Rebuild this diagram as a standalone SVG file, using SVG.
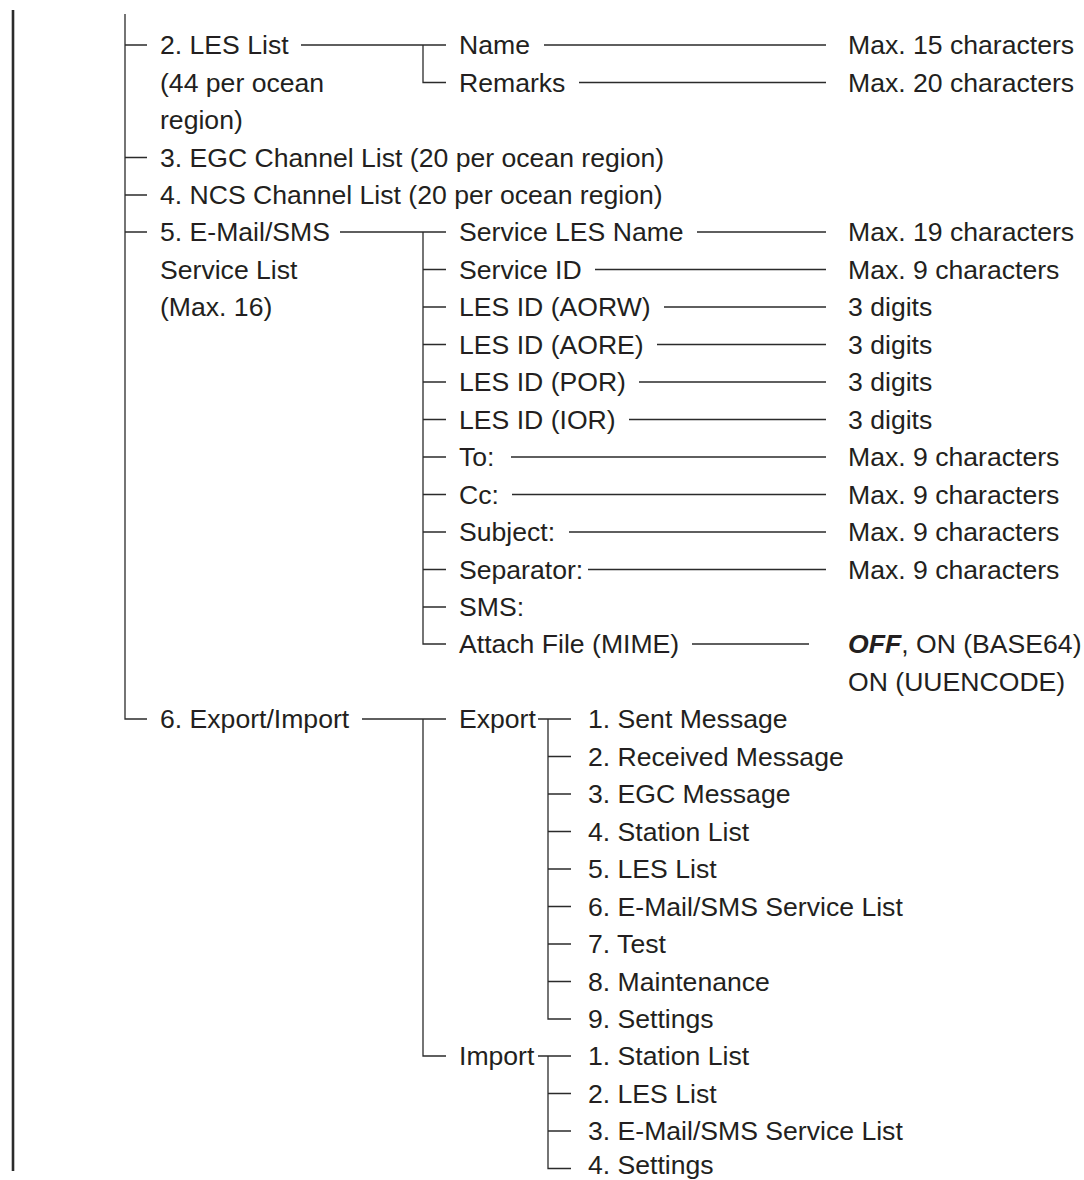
<svg xmlns="http://www.w3.org/2000/svg" width="1084" height="1180" viewBox="0 0 1084 1180">
<style>
text{font-family:"Liberation Sans",Arial,Helvetica,sans-serif;font-size:26.6px;fill:#231f20}
.bi{font-weight:bold;font-style:italic}
.c path,.c line{stroke:#2b2b2b;stroke-width:1.3;fill:none}
.edge{stroke:#2b2b2b;stroke-width:2.6}
</style>
<rect width="1084" height="1180" fill="#fff"/>
<line class="edge" x1="13" y1="10" x2="13" y2="1171"/>
<g id="connectors" class="c">
<path d="M125 14V719H147"/>
<path d="M125 45H147M125 157.5H147M125 195H147M125 232H147"/>
<path d="M301 45H446M423 45V82.5H446"/>
<path d="M340 232H446M423 232V644H446"/>
<path d="M423 269.5H446M423 307H446M423 344.5H446M423 382H446M423 419.5H446M423 457H446M423 494.5H446M423 532H446M423 569.5H446M423 607H446"/>
<path d="M362 719H446M423 719V1056H446"/>
<path d="M544 45H826M579 82.5H826"/>
<path d="M697 232H826M595 269.5H826M664 307H826M657 344.5H826M639 382H826M629 419.5H826M511 457H826M512 494.5H826M569 532H826M588 569.5H826M692 644H809"/>
<path d="M538 719H571M548 719V1019H571"/>
<path d="M548 756.5H571M548 794H571M548 831.5H571M548 869H571M548 906.5H571M548 944H571M548 981.5H571"/>
<path d="M538 1056H571M548 1056V1168.5H571M548 1093.5H571M548 1131H571"/>
</g>
<g id="n-les-list"><text x="160" y="54">2. LES List</text><text x="160" y="91.5">(44 per ocean</text><text x="160" y="129">region)</text></g>
<g id="n-egc"><text x="160" y="166.5">3. EGC Channel List (20 per ocean region)</text></g>
<g id="n-ncs"><text x="160" y="204">4. NCS Channel List (20 per ocean region)</text></g>
<g id="n-email"><text x="160" y="241">5. E-Mail/SMS</text><text x="160" y="278.5">Service List</text><text x="160" y="316">(Max. 16)</text></g>
<g id="n-export-import"><text x="160" y="728">6. Export/Import</text></g>
<g id="n-name"><text x="459" y="54">Name</text></g>
<g id="n-remarks"><text x="459" y="91.5">Remarks</text></g>
<g id="v-name"><text x="848" y="54">Max. 15 characters</text></g>
<g id="v-remarks"><text x="848" y="91.5">Max. 20 characters</text></g>
<g id="n-slesname"><text x="459" y="241">Service LES Name</text></g>
<g id="n-sid"><text x="459" y="278.5">Service ID</text></g>
<g id="n-aorw"><text x="459" y="316">LES ID (AORW)</text></g>
<g id="n-aore"><text x="459" y="353.5">LES ID (AORE)</text></g>
<g id="n-por"><text x="459" y="391">LES ID (POR)</text></g>
<g id="n-ior"><text x="459" y="428.5">LES ID (IOR)</text></g>
<g id="n-to"><text x="459" y="466">To:</text></g>
<g id="n-cc"><text x="459" y="503.5">Cc:</text></g>
<g id="n-subject"><text x="459" y="541">Subject:</text></g>
<g id="n-separator"><text x="459" y="578.5">Separator:</text></g>
<g id="n-sms"><text x="459" y="616">SMS:</text></g>
<g id="n-attach"><text x="459" y="653">Attach File (MIME)</text></g>
<g id="v-slesname"><text x="848" y="241">Max. 19 characters</text></g>
<g id="v-sid"><text x="848" y="278.5">Max. 9 characters</text></g>
<g id="v-aorw"><text x="848" y="316">3 digits</text></g>
<g id="v-aore"><text x="848" y="353.5">3 digits</text></g>
<g id="v-por"><text x="848" y="391">3 digits</text></g>
<g id="v-ior"><text x="848" y="428.5">3 digits</text></g>
<g id="v-to"><text x="848" y="466">Max. 9 characters</text></g>
<g id="v-cc"><text x="848" y="503.5">Max. 9 characters</text></g>
<g id="v-subject"><text x="848" y="541">Max. 9 characters</text></g>
<g id="v-separator"><text x="848" y="578.5">Max. 9 characters</text></g>
<g id="v-attach"><text x="848" y="653"><tspan class="bi">OFF</tspan>, ON (BASE64)</text><text x="848" y="690.5">ON (UUENCODE)</text></g>
<g id="n-export"><text x="459" y="728">Export</text></g>
<g id="e1"><text x="588" y="728">1. Sent Message</text></g>
<g id="e2"><text x="588" y="765.5">2. Received Message</text></g>
<g id="e3"><text x="588" y="803">3. EGC Message</text></g>
<g id="e4"><text x="588" y="840.5">4. Station List</text></g>
<g id="e5"><text x="588" y="878">5. LES List</text></g>
<g id="e6"><text x="588" y="915.5">6. E-Mail/SMS Service List</text></g>
<g id="e7"><text x="588" y="953">7. Test</text></g>
<g id="e8"><text x="588" y="990.5">8. Maintenance</text></g>
<g id="e9"><text x="588" y="1028">9. Settings</text></g>
<g id="n-import"><text x="459" y="1065">Import</text></g>
<g id="i1"><text x="588" y="1065">1. Station List</text></g>
<g id="i2"><text x="588" y="1102.5">2. LES List</text></g>
<g id="i3"><text x="588" y="1140">3. E-Mail/SMS Service List</text></g>
<g id="i4"><text x="588" y="1174">4. Settings</text></g>
</svg>
